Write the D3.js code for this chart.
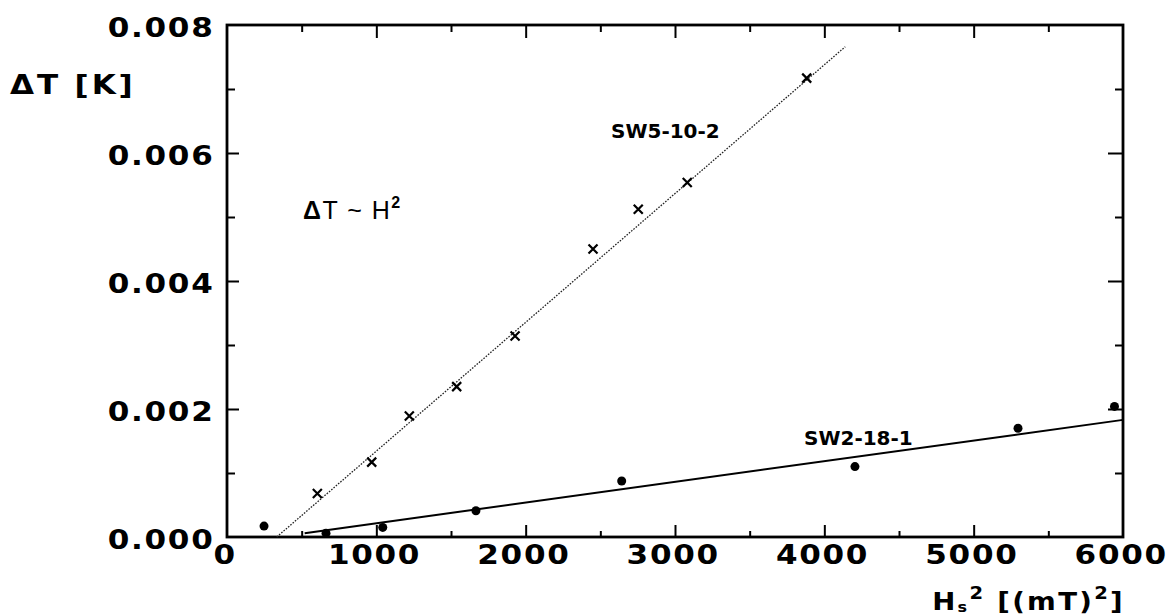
<!DOCTYPE html>
<html>
<head>
<meta charset="utf-8">
<script src="https://cdn.jsdelivr.net/npm/d3@7"></script>
<style>
  html, body { margin: 0; padding: 0; background: #fff; }
  svg { display: block; }
  .lbl { font-family: "DejaVu Sans", sans-serif; font-weight: bold; fill: #000; }
</style>
</head>
<body>
<svg id="chart" width="1170" height="615"></svg>
<script>
// Temperature rise vs. squared field, two samples
const xTicks = [0, 1000, 2000, 3000, 4000, 5000, 6000];
const xMinor = [500, 1500, 2500, 3500, 4500, 5500];
const yTicks = [0, 0.002, 0.004, 0.006, 0.008];
const yMinor = [0.001, 0.003, 0.005, 0.007];

// SW5-10-2 (crosses)
const sw5X = [605, 969, 1221, 1538, 1929, 2451, 2754, 3082, 3882];
const sw5Y = [0.00068, 0.00117, 0.00189, 0.00235, 0.00314, 0.0045, 0.00512, 0.00554, 0.00717];
const sw5FitX = [333, 4140];
const sw5FitY = [0, 0.00766];

// SW2-18-1 (dots)
const sw2X = [248, 663, 1043, 1667, 2643, 4205, 5297, 5943];
const sw2Y = [0.00017, 0.00006, 0.00015, 0.00041, 0.000875, 0.0011, 0.0017, 0.00204];
const sw2FitX = [520, 6000];
const sw2FitY = [0.00006, 0.00183];

const svg = d3.select("#chart");
const plotL = 227, plotR = 1123, plotT = 25, plotB = 537;
const WIDE = 1.15;   // horizontal stretch for the plotter-style lettering

const x = d3.scaleLinear().domain([0, 6000]).range([plotL, plotR]);
const y = d3.scaleLinear().domain([0, 0.008]).range([plotB, plotT]);

function styleTicks(g) {
  g.select(".domain").remove();
  g.selectAll(".tick line").attr("stroke", "#000").attr("stroke-width", 2);
}

// minor ticks (inward)
svg.append("g").attr("transform", `translate(0,${plotB})`)
  .call(d3.axisBottom(x).tickValues(xMinor).tickSize(-6).tickFormat(""))
  .call(styleTicks);
svg.append("g").attr("transform", `translate(0,${plotT})`)
  .call(d3.axisTop(x).tickValues(xMinor).tickSize(-7).tickFormat(""))
  .call(styleTicks);
svg.append("g").attr("transform", `translate(${plotL},0)`)
  .call(d3.axisLeft(y).tickValues(yMinor).tickSize(-8).tickFormat(""))
  .call(styleTicks);
svg.append("g").attr("transform", `translate(${plotR},0)`)
  .call(d3.axisRight(y).tickValues(yMinor).tickSize(-8).tickFormat(""))
  .call(styleTicks);

// major ticks with labels
const gx = svg.append("g").attr("transform", `translate(0,${plotB})`)
  .call(d3.axisBottom(x).tickValues(xTicks).tickSizeInner(-12).tickSizeOuter(0)
    .tickPadding(8).tickFormat(d3.format("d")))
  .call(styleTicks);
gx.selectAll(".tick text")
  .attr("class", "lbl").attr("font-size", 27).attr("letter-spacing", 1.5)
  .attr("x", -2).attr("transform", `scale(${WIDE},1)`).attr("fill", "#000");
gx.selectAll(".tick").filter(d => d === 0 || d === 6000).select("line").remove();

const gy = svg.append("g").attr("transform", `translate(${plotL},0)`)
  .call(d3.axisLeft(y).tickValues(yTicks).tickSizeInner(-12).tickSizeOuter(0)
    .tickPadding(12).tickFormat(d3.format(".3f")))
  .call(styleTicks);
gy.selectAll(".tick text")
  .attr("class", "lbl").attr("font-size", 27).attr("letter-spacing", 1.5)
  .attr("x", -12.5 / WIDE).attr("transform", `scale(${WIDE},1)`)
  .attr("dy", "0.42em").attr("fill", "#000");
gy.selectAll(".tick").filter(d => d === 0 || d === 0.008).select("line").remove();

svg.append("g").attr("transform", `translate(0,${plotT})`)
  .call(d3.axisTop(x).tickValues(xTicks.slice(1, -1)).tickSize(-13).tickFormat(""))
  .call(styleTicks);
svg.append("g").attr("transform", `translate(${plotR},0)`)
  .call(d3.axisRight(y).tickValues(yTicks.slice(1, -1)).tickSize(-15).tickFormat(""))
  .call(styleTicks);

// frame
svg.append("rect")
  .attr("x", x(0)).attr("y", y(0.008))
  .attr("width", x(6000) - x(0)).attr("height", y(0) - y(0.008))
  .attr("fill", "none").attr("stroke", "#000").attr("stroke-width", 2.8);

// fit lines
const line = d3.line().x(d => x(d[0])).y(d => y(d[1]));
svg.append("path")
  .datum(d3.zip(sw5FitX, sw5FitY))
  .attr("d", line).attr("fill", "none")
  .attr("stroke", "#222").attr("stroke-width", 1.3).attr("stroke-dasharray", "1.6 1.4");
svg.append("path")
  .datum(d3.zip(sw2FitX, sw2FitY))
  .attr("d", line).attr("fill", "none")
  .attr("stroke", "#000").attr("stroke-width", 2);

// crosses
const s = 4.5;
svg.append("g").selectAll("path")
  .data(d3.zip(sw5X, sw5Y)).join("path")
  .attr("d", d => {
    const cx = x(d[0]), cy = y(d[1]);
    return `M${cx - s},${cy - s}L${cx + s},${cy + s}M${cx - s},${cy + s}L${cx + s},${cy - s}`;
  })
  .attr("stroke", "#000").attr("stroke-width", 2.2).attr("fill", "none");

// dots
svg.append("g").selectAll("circle")
  .data(d3.zip(sw2X, sw2Y)).join("circle")
  .attr("cx", d => x(d[0])).attr("cy", d => y(d[1])).attr("r", 4.5)
  .attr("fill", "#000");

// axis titles
svg.append("text").attr("class", "lbl")
  .attr("transform", `translate(10,94) scale(${WIDE},1)`)
  .attr("font-size", 27).attr("letter-spacing", 2.5)
  .text("ΔT [K]");

const xt = svg.append("text").attr("class", "lbl")
  .attr("transform", `translate(${plotR + 2},610) scale(${WIDE},1)`)
  .attr("font-size", 24).attr("letter-spacing", 2).attr("text-anchor", "end");
xt.append("tspan").text("H");
xt.append("tspan").attr("font-size", 14).attr("dy", 2).text("s");
xt.append("tspan").attr("font-size", 17).attr("dy", -13).text("2");
xt.append("tspan").attr("dy", 11).text(" [(mT)");
xt.append("tspan").attr("font-size", 17).attr("dy", -11).text("2");
xt.append("tspan").attr("dy", 11).text("]");

// series labels
svg.append("text").attr("class", "lbl")
  .attr("x", 611).attr("y", 138).attr("font-size", 20).text("SW5-10-2");
svg.append("text").attr("class", "lbl")
  .attr("x", 804).attr("y", 445).attr("font-size", 20).text("SW2-18-1");

// proportionality note
const note = svg.append("text")
  .attr("x", 303).attr("y", 219)
  .attr("font-family", "Liberation Sans, Arial, sans-serif")
  .attr("font-size", 25).attr("letter-spacing", 1.5).attr("fill", "#000");
note.append("tspan").attr("font-weight", "bold").text("Δ");
note.append("tspan").text("T ~ H");
note.append("tspan").attr("font-size", 16).attr("font-weight", "bold").attr("dy", -11).text("2");
</script>
</body>
</html>
